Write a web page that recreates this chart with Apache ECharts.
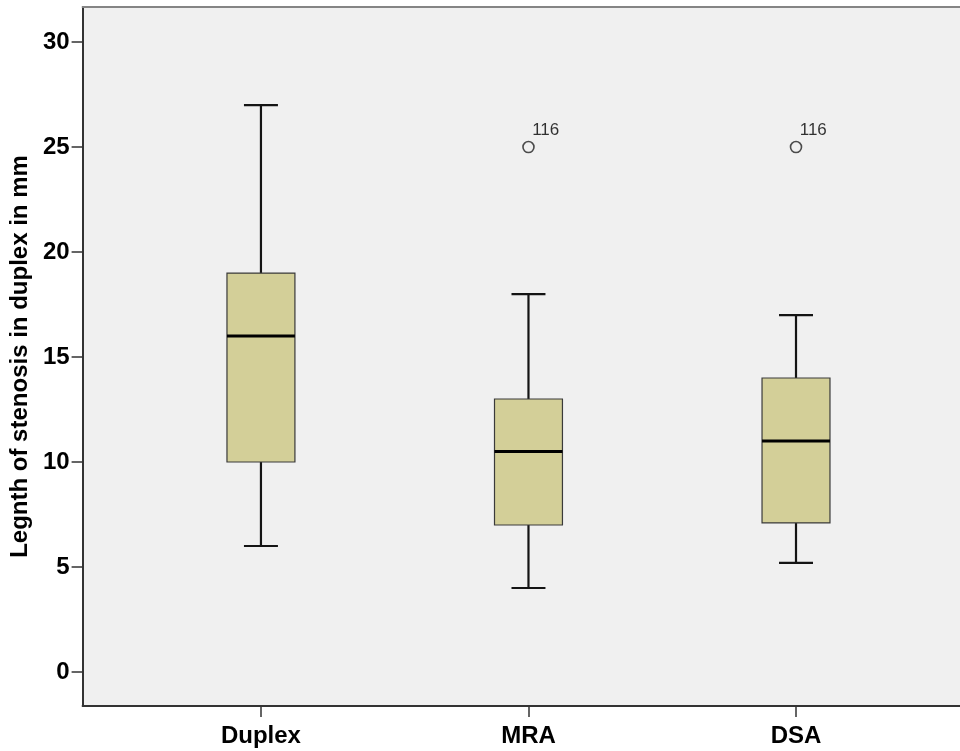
<!DOCTYPE html>
<html>
<head>
<meta charset="utf-8">
<title>Length of stenosis</title>
<script src="https://cdn.jsdelivr.net/npm/echarts@6/dist/echarts.min.js"></script>
<style>
  html, body { margin: 0; padding: 0; background: #fff; }
  #chart { width: 960px; height: 751px; }
</style>
</head>
<body>
<div id="chart"></div>
<script>
// Boxplot (SPSS style) drawn with a custom series on a value x axis,
// so the category spacing and the cropped right edge can match the original.

const categories = ['Duplex', 'MRA', 'DSA']
const whiskerLow = [6, 4, 5.2]
const q1 = [10, 7, 7.1]
const median = [16, 10.5, 11]
const q3 = [19, 13, 14]
const whiskerHigh = [27, 18, 17]
// [category index, value, case label]
const outliers = [
  [1, 25, '116'],
  [2, 25, '116'],
]
const yTicks = [0, 5, 10, 15, 20, 25, 30]
const xTicks = [0, 1, 2]

const boxData = categories.map((c, i) => [i, whiskerLow[i], q1[i], median[i], q3[i], whiskerHigh[i]])

const FONT = 'Liberation Sans, Arial, sans-serif'
const chart = echarts.init(document.getElementById('chart'))

function renderBox(params, api) {
  const x = api.value(0)
  const lo = api.coord([x, api.value(1)])
  const b1 = api.coord([x, api.value(2)])
  const md = api.coord([x, api.value(3)])
  const b3 = api.coord([x, api.value(4)])
  const hi = api.coord([x, api.value(5)])
  const halfBox = api.size([0.254, 0])[0] / 2
  const halfCap = halfBox / 2
  const cx = lo[0]
  const lineStyle = { stroke: '#141414', lineWidth: 2.2 }
  return {
    type: 'group',
    children: [
      { type: 'line', shape: { x1: cx, y1: hi[1], x2: cx, y2: b3[1] }, style: lineStyle },
      { type: 'line', shape: { x1: cx, y1: lo[1], x2: cx, y2: b1[1] }, style: lineStyle },
      { type: 'line', shape: { x1: cx - halfCap, y1: hi[1], x2: cx + halfCap, y2: hi[1] }, style: lineStyle },
      { type: 'line', shape: { x1: cx - halfCap, y1: lo[1], x2: cx + halfCap, y2: lo[1] }, style: lineStyle },
      {
        type: 'rect',
        shape: { x: cx - halfBox, y: b3[1], width: halfBox * 2, height: b1[1] - b3[1] },
        style: { fill: '#d3cf98', stroke: '#3a3a3a', lineWidth: 1.2 },
      },
      {
        type: 'line',
        shape: { x1: cx - halfBox, y1: md[1], x2: cx + halfBox, y2: md[1] },
        style: { stroke: '#000', lineWidth: 3 },
      },
    ],
  }
}

chart.setOption({
  animation: false,
  grid: {
    left: 81, right: 0, top: 7, bottom: 45,
    show: true,
    backgroundColor: '#f0f0f0',
    borderWidth: 0,
  },
  xAxis: [
    {
      type: 'value',
      // plot area is cropped on the right in the original: 268px per category
      min: -2 / 3,
      max: 2.613,
      splitLine: { show: false },
      axisLine: { onZero: false, lineStyle: { color: '#333', width: 2 } },
      axisTick: { show: true, length: 11, customValues: xTicks, lineStyle: { color: '#333', width: 1.5 } },
      axisLabel: {
        customValues: xTicks,
        margin: 18,
        color: '#000',
        fontFamily: FONT,
        fontWeight: 'bold',
        fontSize: 24,
        formatter: (v) => categories[Math.round(v)] ?? '',
      },
    },
    {
      // top frame line only
      type: 'value',
      position: 'top',
      min: -2 / 3,
      max: 2.613,
      splitLine: { show: false },
      axisLine: { show: true, onZero: false, lineStyle: { color: '#858585', width: 2 } },
      axisTick: { show: false },
      axisLabel: { show: false },
    },
  ],
  yAxis: {
    type: 'value',
    min: -1.62,
    max: 31.67,
    splitLine: { show: false },
    name: 'Legnth of stenosis in duplex in mm',
    nameLocation: 'middle',
    nameRotate: 90,
    nameGap: 40,
    nameTextStyle: {
      color: '#000',
      fontFamily: FONT,
      fontWeight: 'bold',
      fontSize: 24,
    },
    axisLine: { show: true, onZero: false, lineStyle: { color: '#333', width: 2 } },
    axisTick: { show: true, length: 11, customValues: yTicks, lineStyle: { color: '#333', width: 1.5 } },
    axisLabel: {
      customValues: yTicks,
      margin: 13,
      color: '#000',
      fontFamily: FONT,
      fontWeight: 'bold',
      fontSize: 24,
    },
  },
  series: [
    {
      type: 'custom',
      renderItem: renderBox,
      data: boxData,
      encode: { x: 0, y: [1, 2, 3, 4, 5] },
      z: 2,
    },
    {
      type: 'scatter',
      data: outliers,
      symbol: 'circle',
      symbolSize: 11,
      itemStyle: { color: '#f0f0f0', borderColor: '#222', borderWidth: 1.6 },
      label: {
        show: true,
        position: [10, -19],
        formatter: (p) => p.data[2],
        color: '#000',
        fontFamily: FONT,
        fontSize: 17,
      },
      z: 3,
    },
  ],
})
</script>
</body>
</html>
